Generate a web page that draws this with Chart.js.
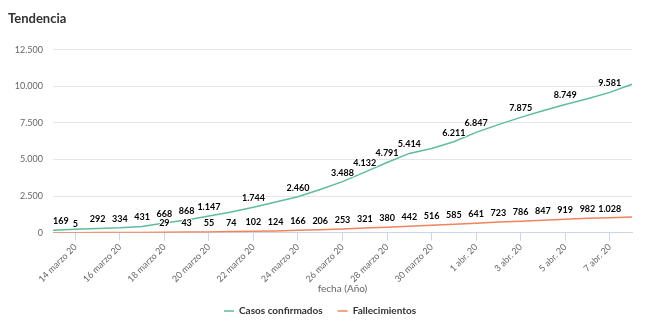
<!DOCTYPE html>
<html lang="es">
<head>
<meta charset="utf-8">
<title>Tendencia</title>
<script src="https://cdn.jsdelivr.net/npm/chart.js@4.4.1/dist/chart.umd.min.js"></script>
<style>
    body { margin: 0; background: #ffffff; }
    #contenedor { width: 650px; height: 333px; position: relative; }
</style>
</head>
<body>
<div id="contenedor">
    <canvas id="graficoTendencia"></canvas>
</div>
<script>
const fechas = [
    "13 marzo 20", "14 marzo 20", "15 marzo 20", "16 marzo 20", "17 marzo 20",
    "18 marzo 20", "19 marzo 20", "20 marzo 20", "21 marzo 20", "22 marzo 20",
    "23 marzo 20", "24 marzo 20", "25 marzo 20", "26 marzo 20", "27 marzo 20",
    "28 marzo 20", "29 marzo 20", "30 marzo 20", "31 marzo 20", "1 abr. 20",
    "2 abr. 20", "3 abr. 20", "4 abr. 20", "5 abr. 20", "6 abr. 20",
    "7 abr. 20", "8 abr. 20"
];

const casosConfirmados = [
    169, 230, 292, 334, 431, 668, 868, 1147, 1420, 1744,
    2100, 2460, 2950, 3488, 4132, 4791, 5414, 5750, 6211, 6847,
    7380, 7875, 8330, 8749, 9150, 9581, 10130
];

const fallecimientos = [
    3, 5, 9, 13, 21, 29, 43, 55, 74, 102,
    124, 166, 206, 253, 321, 380, 442, 516, 585, 641,
    723, 786, 847, 919, 982, 1028, 1080
];

const ticksEjeY = [0, 2500, 5000, 7500, 10000, 12500];

const COLOR_CASOS = "#5dbd9c";
const COLOR_FALLECIDOS = "#f0845e";
const FUENTE = "Lato, 'Open Sans', sans-serif";

function formatearNumero(valor) {
    return String(valor).replace(/\B(?=(\d{3})+(?!\d))/g, ".");
}

// etiquetas de valor sobre cada punto; se omiten las que se pisan con otra ya dibujada
const etiquetasDatos = {
    id: "etiquetasDatos",
    afterDatasetsDraw(chart) {
        const ctx = chart.ctx;
        const area = chart.chartArea;
        const ocupadas = [];
        const alto = 8.5;

        ctx.save();
        ctx.font = "bold 9px " + FUENTE;
        ctx.textAlign = "center";
        ctx.textBaseline = "middle";
        ctx.lineJoin = "round";

        chart.data.datasets.forEach((dataset, i) => {
            const meta = chart.getDatasetMeta(i);
            if (meta.hidden) return;

            meta.data.forEach((punto, j) => {
                const texto = formatearNumero(dataset.data[j]);
                const ancho = ctx.measureText(texto).width;
                let x = punto.x;
                const y = punto.y - 9;

                if (x - ancho / 2 < area.left) x = area.left + ancho / 2;
                if (x + ancho / 2 > area.right) x = area.right - ancho / 2;

                const caja = {
                    x1: x - ancho / 2 - 1,
                    x2: x + ancho / 2 + 1,
                    y1: y - alto / 2,
                    y2: y + alto / 2
                };

                const choca = ocupadas.some(o =>
                    caja.x1 < o.x2 && caja.x2 > o.x1 && caja.y1 < o.y2 && caja.y2 > o.y1
                );
                if (choca) return;
                ocupadas.push(caja);

                ctx.lineWidth = 2;
                ctx.strokeStyle = "#ffffff";
                ctx.strokeText(texto, x, y);
                ctx.fillStyle = "#000000";
                ctx.fillText(texto, x, y);
            });
        });

        ctx.restore();
    }
};

const ctx = document.getElementById("graficoTendencia").getContext("2d");

new Chart(ctx, {
    type: "line",
    data: {
        labels: fechas,
        datasets: [
            {
                label: "Casos confirmados",
                data: casosConfirmados,
                borderColor: COLOR_CASOS,
                backgroundColor: COLOR_CASOS,
                borderWidth: 1.5,
                pointRadius: 0,
                tension: 0
            },
            {
                label: "Fallecimientos",
                data: fallecimientos,
                borderColor: COLOR_FALLECIDOS,
                backgroundColor: COLOR_FALLECIDOS,
                borderWidth: 1.5,
                pointRadius: 0,
                tension: 0
            }
        ]
    },
    options: {
        responsive: true,
        maintainAspectRatio: false,
        animation: false,
        layout: {
            padding: { left: 8, right: 18, top: 0, bottom: 7 }
        },
        scales: {
            x: {
                afterFit: scale => {
                    scale.height = 58.3;
                },
                grid: {
                    drawOnChartArea: false,
                    drawTicks: true,
                    tickLength: 8,
                    tickColor: c => (c.index % 2 === 1 ? "#ccd6eb" : "rgba(0,0,0,0)")
                },
                border: { color: "#ccd6eb", width: 1 },
                ticks: {
                    autoSkip: false,
                    minRotation: 45,
                    maxRotation: 45,
                    padding: 1,
                    color: "#666666",
                    font: { family: FUENTE, size: 9 },
                    callback: function(valor, indice) {
                        return indice % 2 === 1 ? this.getLabelForValue(valor) : "";
                    }
                },
                title: {
                    display: true,
                    text: "fecha (Año)",
                    color: "#666666",
                    font: { family: FUENTE, size: 10 },
                    padding: { top: 4, bottom: -4 }
                }
            },
            y: {
                min: 0,
                max: 12500,
                afterBuildTicks: scale => {
                    scale.ticks = ticksEjeY.map(v => ({ value: v }));
                },
                afterFit: scale => {
                    scale.width = 45;
                },
                grid: {
                    color: "#e6e6e6",
                    drawTicks: false
                },
                border: { display: false },
                ticks: {
                    padding: 10,
                    color: "#666666",
                    font: { family: FUENTE, size: 9 },
                    callback: valor => formatearNumero(valor)
                }
            }
        },
        plugins: {
            title: {
                display: true,
                text: "Tendencia",
                align: "start",
                color: "#333333",
                font: { family: FUENTE, size: 13, weight: "bold" },
                padding: { top: 11, bottom: 23 }
            },
            legend: {
                position: "bottom",
                labels: {
                    usePointStyle: true,
                    pointStyle: "line",
                    pointStyleWidth: 10,
                    boxWidth: 10,
                    boxHeight: 10,
                    padding: 15,
                    color: "#333333",
                    font: { family: FUENTE, size: 10, weight: "bold" }
                }
            },
            tooltip: {
                callbacks: {
                    label: c => ` ${c.dataset.label}: ${formatearNumero(c.raw)}`
                }
            }
        }
    },
    plugins: [etiquetasDatos]
});
</script>
</body>
</html>
